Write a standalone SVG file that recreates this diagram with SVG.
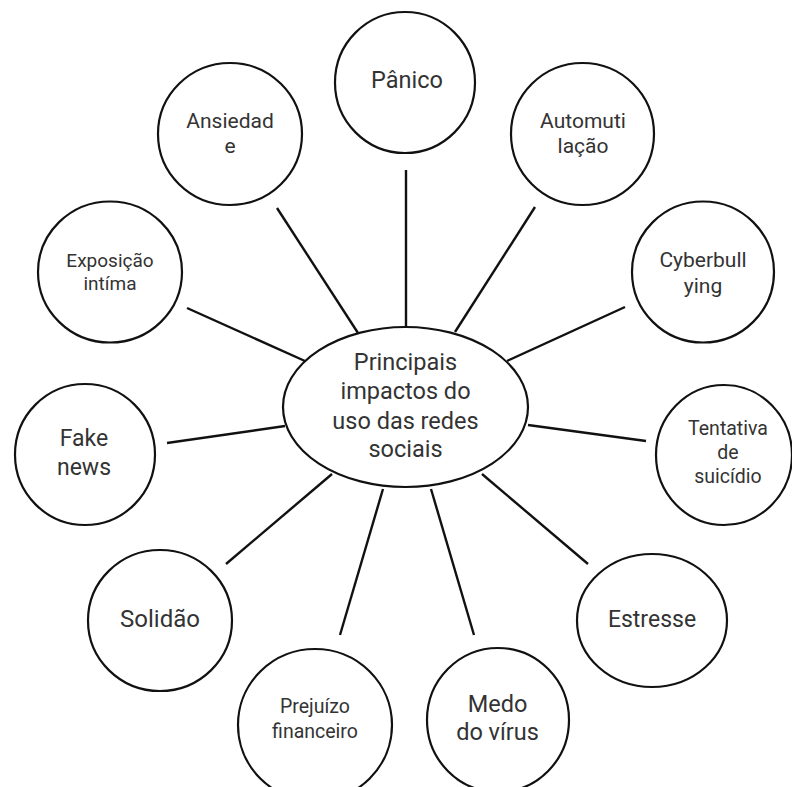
<svg xmlns="http://www.w3.org/2000/svg" width="792" height="787" viewBox="0 0 792 787">
<style>
.n{fill:#fff;stroke:#111;stroke-width:2.2}
.t{font-family:Roboto,"Open Sans",sans-serif;fill:#333;text-anchor:middle}
.c line{stroke:#111;stroke-width:2.4}
</style>
<rect width="792" height="787" fill="#fff"/>
<g class="c" id="connectors">
<line x1="406" y1="170" x2="406" y2="327"/>
<line x1="277" y1="208" x2="358" y2="333"/>
<line x1="535" y1="207" x2="455" y2="332"/>
<line x1="187" y1="308" x2="305" y2="361"/>
<line x1="625" y1="307" x2="507" y2="361"/>
<line x1="167" y1="443" x2="285" y2="426"/>
<line x1="528" y1="425" x2="646" y2="441"/>
<line x1="226" y1="564" x2="332" y2="474"/>
<line x1="482" y1="474" x2="588" y2="564"/>
<line x1="383" y1="489" x2="340" y2="635"/>
<line x1="431" y1="489" x2="474" y2="635"/>
</g>
<g id="center">
<ellipse class="n" cx="405.5" cy="407" rx="122.5" ry="80"/>
<text class="t" font-size="23.5" x="405.5" y="370">Principais</text>
<text class="t" font-size="23.5" x="405.5" y="399">impactos do</text>
<text class="t" font-size="23.5" x="405.5" y="429">uso das redes</text>
<text class="t" font-size="23.5" x="405.5" y="457">sociais</text>
</g>
<g id="panico">
<ellipse class="n" cx="405" cy="82.5" rx="70" ry="70.5"/>
<text class="t" font-size="23.5" x="407" y="88">Pânico</text>
</g>
<g id="ansiedade">
<ellipse class="n" cx="230" cy="134" rx="72" ry="71"/>
<text class="t" font-size="21" x="230" y="128">Ansiedad</text>
<text class="t" font-size="21" x="230" y="153">e</text>
</g>
<g id="automutilacao">
<ellipse class="n" cx="582.5" cy="134" rx="71.5" ry="71"/>
<text class="t" font-size="21" x="583" y="128">Automuti</text>
<text class="t" font-size="21" x="583" y="153">lação</text>
</g>
<g id="exposicao">
<ellipse class="n" cx="110" cy="272" rx="72" ry="70.5"/>
<text class="t" font-size="19" x="110" y="267">Exposição</text>
<text class="t" font-size="19" x="110" y="290">intíma</text>
</g>
<g id="cyberbullying">
<ellipse class="n" cx="703" cy="272" rx="71" ry="70.5"/>
<text class="t" font-size="21" x="703" y="267">Cyberbull</text>
<text class="t" font-size="21" x="703" y="293">ying</text>
</g>
<g id="fakenews">
<ellipse class="n" cx="85" cy="454.5" rx="70" ry="70.5"/>
<text class="t" font-size="23" x="84" y="446">Fake</text>
<text class="t" font-size="23" x="84" y="475">news</text>
</g>
<g id="tentativa">
<ellipse class="n" cx="724" cy="455" rx="68" ry="70"/>
<text class="t" font-size="19.5" x="728" y="435">Tentativa</text>
<text class="t" font-size="19.5" x="728" y="459">de</text>
<text class="t" font-size="19.5" x="728" y="483">suicídio</text>
</g>
<g id="solidao">
<ellipse class="n" cx="160" cy="620.5" rx="72" ry="70.5"/>
<text class="t" font-size="24" x="160" y="627">Solidão</text>
</g>
<g id="estresse">
<ellipse class="n" cx="652" cy="620.5" rx="75" ry="66.5"/>
<text class="t" font-size="23" x="652" y="627">Estresse</text>
</g>
<g id="prejuizo">
<ellipse class="n" cx="315" cy="725" rx="77" ry="76"/>
<text class="t" font-size="19.5" x="315" y="713">Prejuízo</text>
<text class="t" font-size="19.5" x="315" y="738">financeiro</text>
</g>
<g id="medo">
<ellipse class="n" cx="498" cy="720" rx="71" ry="72"/>
<text class="t" font-size="23.5" x="497.5" y="712">Medo</text>
<text class="t" font-size="23.5" x="497.5" y="740">do vírus</text>
</g>
</svg>
